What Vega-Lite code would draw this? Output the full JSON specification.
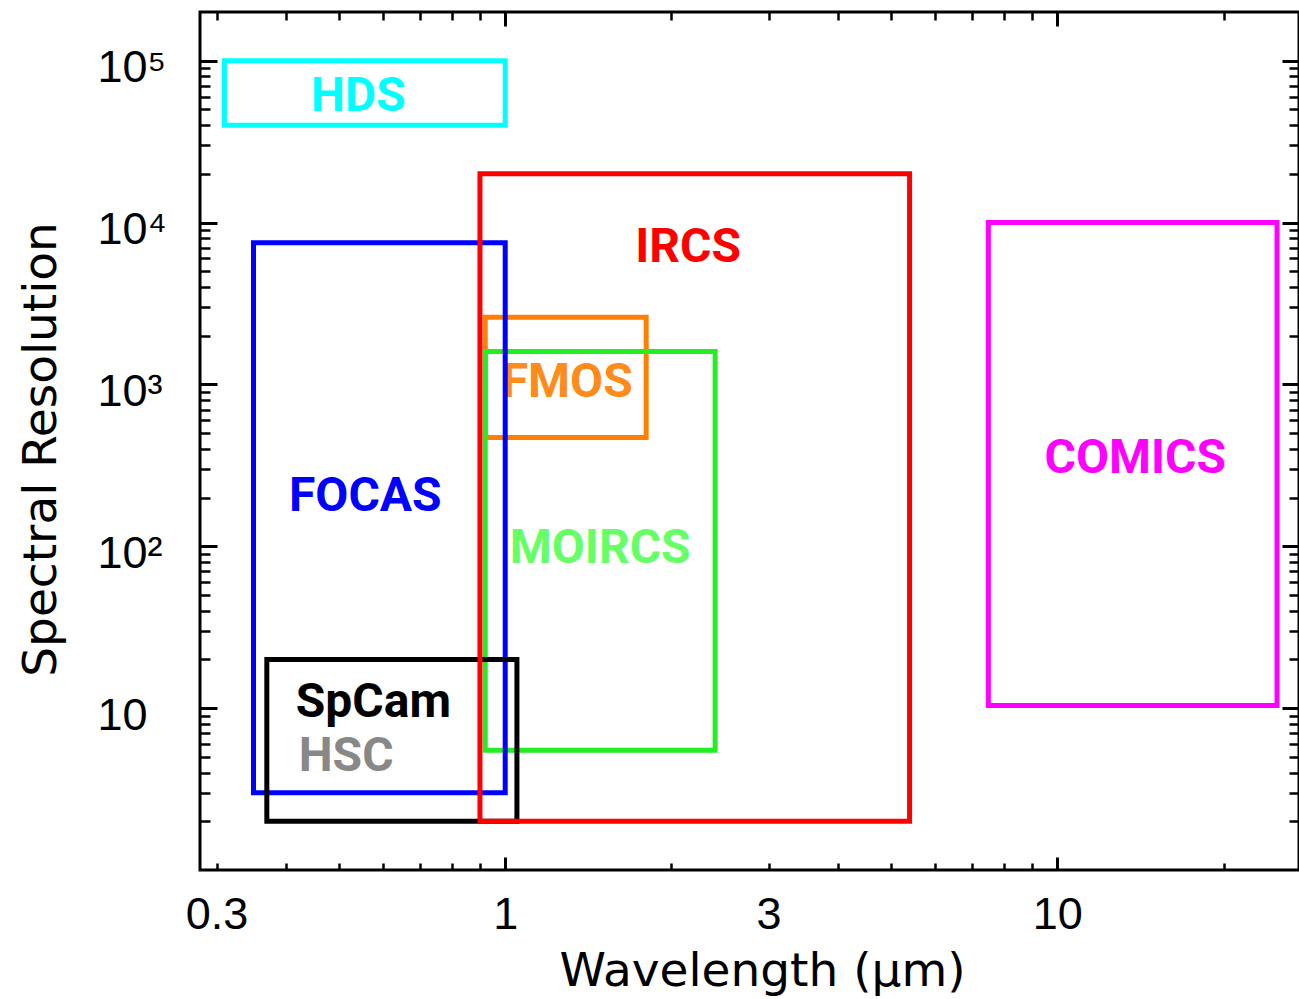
{
  "$schema": "https://vega.github.io/schema/vega-lite/v6.json",
  "autosize": {"type": "none"},
  "padding": {"left": 200, "top": 12, "right": 0, "bottom": 129},
  "width": 1099,
  "height": 858,
  "background": "white",
  "config": {
    "view": {"stroke": "black", "strokeWidth": 3},
    "axis": {"grid": false, "domain": false, "labelFlush": false, "labelOverlap": false, "labelBound": false, "tickColor": "black", "tickCap": "butt"}
  },
  "datasets": {
    "boxes": [
      {"instrument": "HDS", "wmin": 0.31, "wmax": 1.0, "rmin": 40000, "rmax": 100000},
      {"instrument": "FMOS", "wmin": 0.92, "wmax": 1.8, "rmin": 470, "rmax": 2600},
      {"instrument": "MOIRCS", "wmin": 0.92, "wmax": 2.4, "rmin": 5.5, "rmax": 1600},
      {"instrument": "FOCAS", "wmin": 0.35, "wmax": 1.0, "rmin": 3, "rmax": 7500},
      {"instrument": "SpCam", "wmin": 0.37, "wmax": 1.05, "rmin": 2, "rmax": 20},
      {"instrument": "IRCS", "wmin": 0.9, "wmax": 5.4, "rmin": 2, "rmax": 20000},
      {"instrument": "COMICS", "wmin": 7.5, "wmax": 25, "rmin": 10.4, "rmax": 10000}
    ],
    "labels": [
      {"label": "HDS", "w": 0.542, "r": 59400},
      {"label": "IRCS", "w": 2.145, "r": 6940},
      {"label": "FMOS", "w": 1.295, "r": 1017},
      {"label": "FOCAS", "w": 0.558, "r": 201},
      {"label": "MOIRCS", "w": 1.486, "r": 96},
      {"label": "COMICS", "w": 13.84, "r": 345},
      {"label": "SpCam", "w": 0.577, "r": 10.7},
      {"label": "HSC", "w": 0.515, "r": 4.98}
    ]
  },
  "resolve": {"axis": {"x": "independent", "y": "independent"}, "scale": {"color": "independent"}},
  "layer": [
    {
      "data": {"name": "labels"},
      "mark": {"type": "text", "font": "Roboto", "fontSize": 48, "fontWeight": "bold", "align": "center", "baseline": "middle"},
      "encoding": {
        "x": {"field": "w", "type": "quantitative", "scale": {"type": "log", "domain": [0.28, 27.4], "nice": false, "zero": false},
          "axis": {"orient": "bottom", "values": [0.3, 1, 3, 10], "format": "~g", "ticks": false, "labelFont": "Liberation Sans", "labelFontSize": 45, "labelColor": "black", "labelBaseline": "alphabetic", "labelPadding": 58,
            "title": "Wavelength (μm)", "titleFont": "DejaVu Sans", "titleFontSize": 47, "titleFontWeight": "normal", "titleColor": "black", "titleBaseline": "alphabetic", "titleAnchor": "middle", "titleX": 562, "titleY": 115}},
        "y": {"field": "r", "type": "quantitative", "scale": {"type": "log", "domain": [1, 200000], "nice": false, "zero": false},
          "axis": {"orient": "left", "values": [10, 100, 1000, 10000, 100000], "ticks": false,
            "labelExpr": "datum.value == 10 ? '10' : datum.value == 100 ? '10²' : datum.value == 1000 ? '10³' : datum.value == 10000 ? '10⁴' : '10⁵'",
            "labelFont": "Liberation Sans", "labelFontSize": 45, "labelColor": "black", "labelAlign": "left", "labelBaseline": "alphabetic", "labelPadding": 103, "labelOffset": 21,
            "title": "Spectral Resolution", "titleFont": "DejaVu Sans", "titleFontSize": 47, "titleFontWeight": "normal", "titleColor": "black", "titleAngle": -90, "titleBaseline": "alphabetic", "titleAnchor": "middle", "titleX": -145, "titleY": 437}},
        "text": {"field": "label", "type": "nominal"},
        "color": {"field": "label", "type": "nominal", "legend": null,
          "scale": {"domain": ["HDS", "IRCS", "FMOS", "FOCAS", "MOIRCS", "COMICS", "SpCam", "HSC"],
                    "range": ["#00FFFF", "#FF0000", "#FF8C1A", "#0000FF", "#66FF66", "#FF00FF", "#000000", "#888888"]}}
      }
    },
    {
      "data": {"name": "boxes"},
      "transform": [{"filter": "datum.instrument == 'HDS' || datum.instrument == 'FMOS' || datum.instrument == 'MOIRCS'"}],
      "mark": {"type": "rect", "filled": false, "strokeWidth": 5},
      "encoding": {
        "x": {"field": "wmin", "type": "quantitative", "scale": {"type": "log", "domain": [0.28, 27.4], "nice": false, "zero": false},
          "axis": {"orient": "bottom", "values": [1, 10], "labels": false, "tickSize": -13, "tickWidth": 3, "title": null}},
        "x2": {"field": "wmax"},
        "y": {"field": "rmin", "type": "quantitative", "scale": {"type": "log", "domain": [1, 200000], "nice": false, "zero": false},
          "axis": {"orient": "left", "values": [10, 100, 1000, 10000, 100000], "labels": false, "tickSize": -17, "tickWidth": 3, "title": null}},
        "y2": {"field": "rmax"},
        "color": {"field": "instrument", "type": "nominal", "legend": null,
          "scale": {"domain": ["HDS", "FMOS", "MOIRCS", "FOCAS", "SpCam", "IRCS", "COMICS"],
                    "range": ["#00FFFF", "#FF8000", "#22EE22", "#0000FF", "#000000", "#FF0000", "#FF00FF"]}}
      }
    },
    {
      "data": {"name": "boxes"},
      "transform": [{"filter": "datum.instrument == 'FOCAS' || datum.instrument == 'SpCam'"}],
      "mark": {"type": "rect", "filled": false, "strokeWidth": 5},
      "encoding": {
        "x": {"field": "wmin", "type": "quantitative", "scale": {"type": "log", "domain": [0.28, 27.4], "nice": false, "zero": false},
          "axis": {"orient": "bottom", "values": [0.3, 0.4, 0.5, 0.6, 0.7, 0.8, 0.9, 2, 3, 4, 5, 6, 7, 8, 9, 20], "labels": false, "tickSize": -7, "tickWidth": 2.5, "title": null}},
        "x2": {"field": "wmax"},
        "y": {"field": "rmin", "type": "quantitative", "scale": {"type": "log", "domain": [1, 200000], "nice": false, "zero": false},
          "axis": {"orient": "left", "values": [2, 3, 4, 5, 6, 7, 8, 9, 20, 30, 40, 50, 60, 70, 80, 90, 200, 300, 400, 500, 600, 700, 800, 900, 2000, 3000, 4000, 5000, 6000, 7000, 8000, 9000, 20000, 30000, 40000, 50000, 60000, 70000, 80000, 90000], "labels": false, "tickSize": -10, "tickWidth": 2.5, "title": null}},
        "y2": {"field": "rmax"},
        "color": {"field": "instrument", "type": "nominal", "legend": null,
          "scale": {"domain": ["HDS", "FMOS", "MOIRCS", "FOCAS", "SpCam", "IRCS", "COMICS"],
                    "range": ["#00FFFF", "#FF8000", "#22EE22", "#0000FF", "#000000", "#FF0000", "#FF00FF"]}}
      }
    },
    {
      "data": {"name": "boxes"},
      "transform": [{"filter": "datum.instrument == 'IRCS'"}],
      "mark": {"type": "rect", "filled": false, "strokeWidth": 5},
      "encoding": {
        "x": {"field": "wmin", "type": "quantitative", "scale": {"type": "log", "domain": [0.28, 27.4], "nice": false, "zero": false},
          "axis": {"orient": "top", "values": [1, 10], "labels": false, "tickSize": -14, "tickWidth": 3, "title": null}},
        "x2": {"field": "wmax"},
        "y": {"field": "rmin", "type": "quantitative", "scale": {"type": "log", "domain": [1, 200000], "nice": false, "zero": false},
          "axis": {"orient": "right", "values": [10, 100, 1000, 10000, 100000], "labels": false, "tickSize": -17, "tickWidth": 3, "title": null}},
        "y2": {"field": "rmax"},
        "color": {"field": "instrument", "type": "nominal", "legend": null,
          "scale": {"domain": ["HDS", "FMOS", "MOIRCS", "FOCAS", "SpCam", "IRCS", "COMICS"],
                    "range": ["#00FFFF", "#FF8000", "#22EE22", "#0000FF", "#000000", "#FF0000", "#FF00FF"]}}
      }
    },
    {
      "data": {"name": "boxes"},
      "transform": [{"filter": "datum.instrument == 'COMICS'"}],
      "mark": {"type": "rect", "filled": false, "strokeWidth": 5},
      "encoding": {
        "x": {"field": "wmin", "type": "quantitative", "scale": {"type": "log", "domain": [0.28, 27.4], "nice": false, "zero": false},
          "axis": {"orient": "top", "values": [0.3, 0.4, 0.5, 0.6, 0.7, 0.8, 0.9, 2, 3, 4, 5, 6, 7, 8, 9, 20], "labels": false, "tickSize": -8, "tickWidth": 2.5, "title": null}},
        "x2": {"field": "wmax"},
        "y": {"field": "rmin", "type": "quantitative", "scale": {"type": "log", "domain": [1, 200000], "nice": false, "zero": false},
          "axis": {"orient": "right", "values": [2, 3, 4, 5, 6, 7, 8, 9, 20, 30, 40, 50, 60, 70, 80, 90, 200, 300, 400, 500, 600, 700, 800, 900, 2000, 3000, 4000, 5000, 6000, 7000, 8000, 9000, 20000, 30000, 40000, 50000, 60000, 70000, 80000, 90000], "labels": false, "tickSize": -10, "tickWidth": 2.5, "title": null}},
        "y2": {"field": "rmax"},
        "color": {"field": "instrument", "type": "nominal", "legend": null,
          "scale": {"domain": ["HDS", "FMOS", "MOIRCS", "FOCAS", "SpCam", "IRCS", "COMICS"],
                    "range": ["#00FFFF", "#FF8000", "#22EE22", "#0000FF", "#000000", "#FF0000", "#FF00FF"]}}
      }
    }
  ]
}
